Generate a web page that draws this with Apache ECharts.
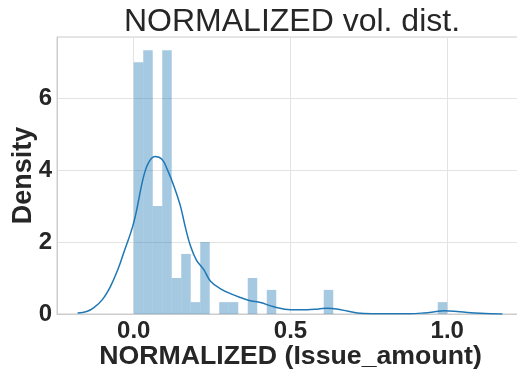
<!DOCTYPE html>
<html>
<head>
<meta charset="utf-8">
<title>NORMALIZED vol. dist.</title>
<script src="https://cdn.jsdelivr.net/npm/echarts@6/dist/echarts.min.js"></script>
<style>
  html, body { margin: 0; padding: 0; background: #ffffff; }
  #chart { width: 517px; height: 376px; }
</style>
</head>
<body>
<div id="chart"></div>
<script>
// Histogram of the normalized issue amounts: 33 equal bins over [0, 1], density-scaled
const binLow = 0.0;
const binHigh = 1.0;
const binDensity = [
  7.0, 7.33, 3.0, 7.33, 1.0, 1.67, 0.33, 2.0, 0, 0.33, 0.33,
  0, 1.0, 0, 0.67, 0, 0, 0, 0, 0, 0.67, 0,
  0, 0, 0, 0, 0, 0, 0, 0, 0, 0, 0.33
];

// Kernel density estimate curve (x position, density)
const kdeX = [-0.179, -0.15, -0.128, -0.1, -0.074, -0.05, -0.032, 0.0, 0.032, 0.05,
              0.069, 0.09, 0.107, 0.128, 0.149, 0.165, 0.181, 0.2, 0.223, 0.245,
              0.277, 0.31, 0.34, 0.372, 0.404, 0.447, 0.5, 0.553, 0.59, 0.617,
              0.66, 0.713, 0.76, 0.82, 0.88, 0.926, 0.96, 0.99, 1.04, 1.106, 1.176];
const kdeY = [0.03, 0.07, 0.17, 0.4, 0.77, 1.25, 1.70, 2.54, 3.84, 4.25,
              4.38, 4.3, 4.02, 3.56, 3.0, 2.4, 1.89, 1.5, 1.24, 0.91,
              0.7, 0.56, 0.46, 0.37, 0.32, 0.2, 0.12, 0.12, 0.14, 0.16,
              0.12, 0.03, 0.01, 0.01, 0.01, 0.03, 0.06, 0.09, 0.06, 0.02, 0.0];

// Axis ranges and tick labels
const xRange = [-0.2447, 1.2447];
const yRange = [0, 7.7];
const yTickStep = 2;

const FONT = "'Liberation Sans', Arial, sans-serif";
const INK = '#262626';
const BLUE = '#1f77b4';

const binWidth = (binHigh - binLow) / binDensity.length;
const histData = binDensity.map((d, i) => [binLow + i * binWidth, binLow + (i + 1) * binWidth, d]);
const kdeData = kdeX.map((x, i) => [x, kdeY[i]]);

const chart = echarts.init(document.getElementById('chart'), null, { renderer: 'canvas' });

chart.setOption({
  animation: false,
  backgroundColor: '#ffffff',
  title: {
    text: 'NORMALIZED vol. dist.',
    left: 287,
    top: 1,
    textAlign: 'center',
    textStyle: { fontFamily: FONT, fontSize: 32, fontWeight: 'normal', color: INK }
  },
  grid: {
    left: 57, right: -7, top: 37, bottom: 62,
    containLabel: false,
    outerBoundsMode: 'none',
    show: true, borderColor: '#cccccc', borderWidth: 1, backgroundColor: 'transparent'
  },
  xAxis: {
    type: 'value',
    min: xRange[0], max: xRange[1],
    splitNumber: 3,
    name: 'NORMALIZED (Issue_amount)',
    nameLocation: 'middle',
    nameGap: 29,
    nameMoveOverlap: false,
    nameTextStyle: { fontFamily: FONT, fontSize: 26.7, fontWeight: 'bold', color: INK },
    axisLine: { show: true, onZero: false, lineStyle: { color: '#cccccc', width: 1 } },
    axisTick: { show: false },
    axisLabel: {
      showMinLabel: false, showMaxLabel: false,
      margin: 5,
      fontFamily: FONT, fontSize: 24, fontWeight: 'bold', color: INK,
      formatter: v => v.toFixed(1)
    },
    splitLine: { show: true, lineStyle: { color: '#e3e3e3', width: 1 } }
  },
  yAxis: {
    type: 'value',
    min: yRange[0], max: yRange[1],
    interval: yTickStep,
    name: 'Density',
    nameLocation: 'middle',
    nameRotate: 90,
    nameGap: 20,
    nameMoveOverlap: false,
    nameTextStyle: { fontFamily: FONT, fontSize: 27, fontWeight: 'bold', color: INK },
    axisLine: { show: true, onZero: false, lineStyle: { color: '#cccccc', width: 1 } },
    axisTick: { show: false },
    axisLabel: {
      showMaxLabel: false,
      margin: 5,
      fontFamily: FONT, fontSize: 24, fontWeight: 'bold', color: INK,
      formatter: v => String(v)
    },
    splitLine: { show: true, lineStyle: { color: '#e3e3e3', width: 1 } }
  },
  series: [
    {
      type: 'custom',
      name: 'hist',
      data: histData,
      encode: { x: [0, 1], y: 2 },
      z: 2,
      renderItem: function (params, api) {
        const h = api.value(2);
        if (!(h > 0)) return null;
        const topLeft = api.coord([api.value(0), h]);
        const bottomRight = api.coord([api.value(1), 0]);
        return {
          type: 'rect',
          shape: {
            x: topLeft[0], y: topLeft[1],
            width: bottomRight[0] - topLeft[0],
            height: bottomRight[1] - topLeft[1]
          },
          style: { fill: BLUE, opacity: 0.4 }
        };
      }
    },
    {
      type: 'line',
      name: 'kde',
      data: kdeData,
      smooth: 0.4,
      showSymbol: false,
      z: 3,
      lineStyle: { color: BLUE, width: 1.5 },
      itemStyle: { color: BLUE }
    }
  ]
});
</script>
</body>
</html>
